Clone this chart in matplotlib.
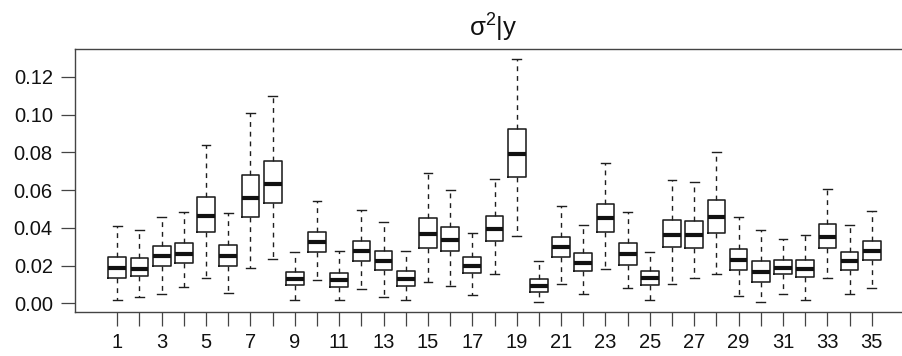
import matplotlib
matplotlib.use("Agg")
import matplotlib.pyplot as plt

plt.rcParams['font.family'] = ['Liberation Sans', 'DejaVu Sans']
plt.rcParams['mathtext.fontset'] = 'custom'
plt.rcParams['mathtext.rm'] = 'Liberation Sans'

groups = list(range(1, 36))
whislo = [0.0016, 0.0032, 0.0049, 0.0085, 0.0134, 0.0053, 0.0185, 0.0237, 0.0018, 0.0125,
          0.0018, 0.0076, 0.0035, 0.0019, 0.0111, 0.0092, 0.0046, 0.0155, 0.0358, 0.0005,
          0.0104, 0.0049, 0.0182, 0.0081, 0.0016, 0.0102, 0.0132, 0.0155, 0.0041, 0.0007,
          0.0048, 0.0018, 0.0134, 0.0051, 0.0083]
q1 = [0.0134, 0.0143, 0.0199, 0.0214, 0.0378, 0.0199, 0.0459, 0.0530, 0.0097, 0.0272,
      0.0085, 0.0226, 0.0177, 0.0094, 0.0291, 0.0275, 0.0159, 0.0328, 0.0671, 0.0060,
      0.0244, 0.0169, 0.0379, 0.0205, 0.0097, 0.0297, 0.0295, 0.0374, 0.0175, 0.0115,
      0.0154, 0.0139, 0.0293, 0.0178, 0.0228]
med = [0.0187, 0.0184, 0.0249, 0.0263, 0.0461, 0.0251, 0.0560, 0.0634, 0.0131, 0.0325,
       0.0122, 0.0275, 0.0226, 0.0131, 0.0369, 0.0335, 0.0199, 0.0392, 0.0789, 0.0092,
       0.0297, 0.0212, 0.0450, 0.0259, 0.0132, 0.0362, 0.0362, 0.0457, 0.0229, 0.0168,
       0.0189, 0.0182, 0.0353, 0.0224, 0.0279]
q3 = [0.0245, 0.0240, 0.0302, 0.0321, 0.0563, 0.0311, 0.0678, 0.0755, 0.0168, 0.0378,
      0.0162, 0.0332, 0.0279, 0.0169, 0.0452, 0.0406, 0.0245, 0.0462, 0.0921, 0.0127,
      0.0353, 0.0268, 0.0526, 0.0319, 0.0169, 0.0441, 0.0434, 0.0545, 0.0288, 0.0224,
      0.0229, 0.0228, 0.0420, 0.0274, 0.0332]
whishi = [0.0411, 0.0387, 0.0457, 0.0484, 0.0838, 0.0477, 0.1010, 0.1098, 0.0274, 0.0542,
          0.0279, 0.0494, 0.0432, 0.0279, 0.0692, 0.0600, 0.0374, 0.0660, 0.1294, 0.0226,
          0.0517, 0.0415, 0.0743, 0.0485, 0.0274, 0.0655, 0.0642, 0.0801, 0.0457, 0.0387,
          0.0342, 0.0364, 0.0607, 0.0417, 0.0491]
yticks = [0.00, 0.02, 0.04, 0.06, 0.08, 0.10, 0.12]
xtick_labels = [str(g) if g % 2 == 1 else '' for g in groups]

stats = []
for i in range(len(groups)):
    stats.append(dict(whislo=whislo[i], q1=q1[i], med=med[i], q3=q3[i],
                      whishi=whishi[i], fliers=[]))

W, H = 903, 356
fig = plt.figure(figsize=(W / 100, H / 100), dpi=100)
left, right, top, bottom = 75, 903, 49, 311.7
ax = fig.add_axes([left / W, 1 - bottom / H, (right - left) / W, (bottom - top) / H])

ec = '#1e1e1e'
ax.bxp(stats, positions=groups, widths=0.8, capwidths=0.4, showfliers=False,
       boxprops=dict(color=ec, linewidth=1.15),
       medianprops=dict(color='#111111', linewidth=3.0, solid_capstyle='butt'),
       whiskerprops=dict(color=ec, linewidth=1.0, linestyle=(0, (3.5, 3.5))),
       capprops=dict(color=ec, linewidth=1.0))

px_per_x = 22.19
x1_px = 117.3
ax.set_xlim(1 - (x1_px - left) / px_per_x, 1 + (right - x1_px) / px_per_x)
ax.set_ylim(-0.00445, 0.1347)

ax.set_xticks(groups)
ax.set_xticklabels(xtick_labels)
ax.set_yticks(yticks)
ax.set_yticklabels([f'{v:.2f}' for v in yticks])

for s in ['left', 'bottom', 'top']:
    ax.spines[s].set_color('#444444')
    ax.spines[s].set_linewidth(1.0)
ax.spines['right'].set_visible(False)
ax.tick_params(axis='both', colors='#444444', labelcolor='#111111', labelsize=14.5,
               length=10, width=0.9)
ax.tick_params(axis='y', pad=6)
ax.tick_params(axis='x', pad=5)

fig.text(493 / W, 1 - 37 / H, r'$\mathregular{σ^{2}|y}$', ha='center', va='baseline',
         fontsize=18.5, color='#111111')

fig.savefig('out.png', dpi=100)
